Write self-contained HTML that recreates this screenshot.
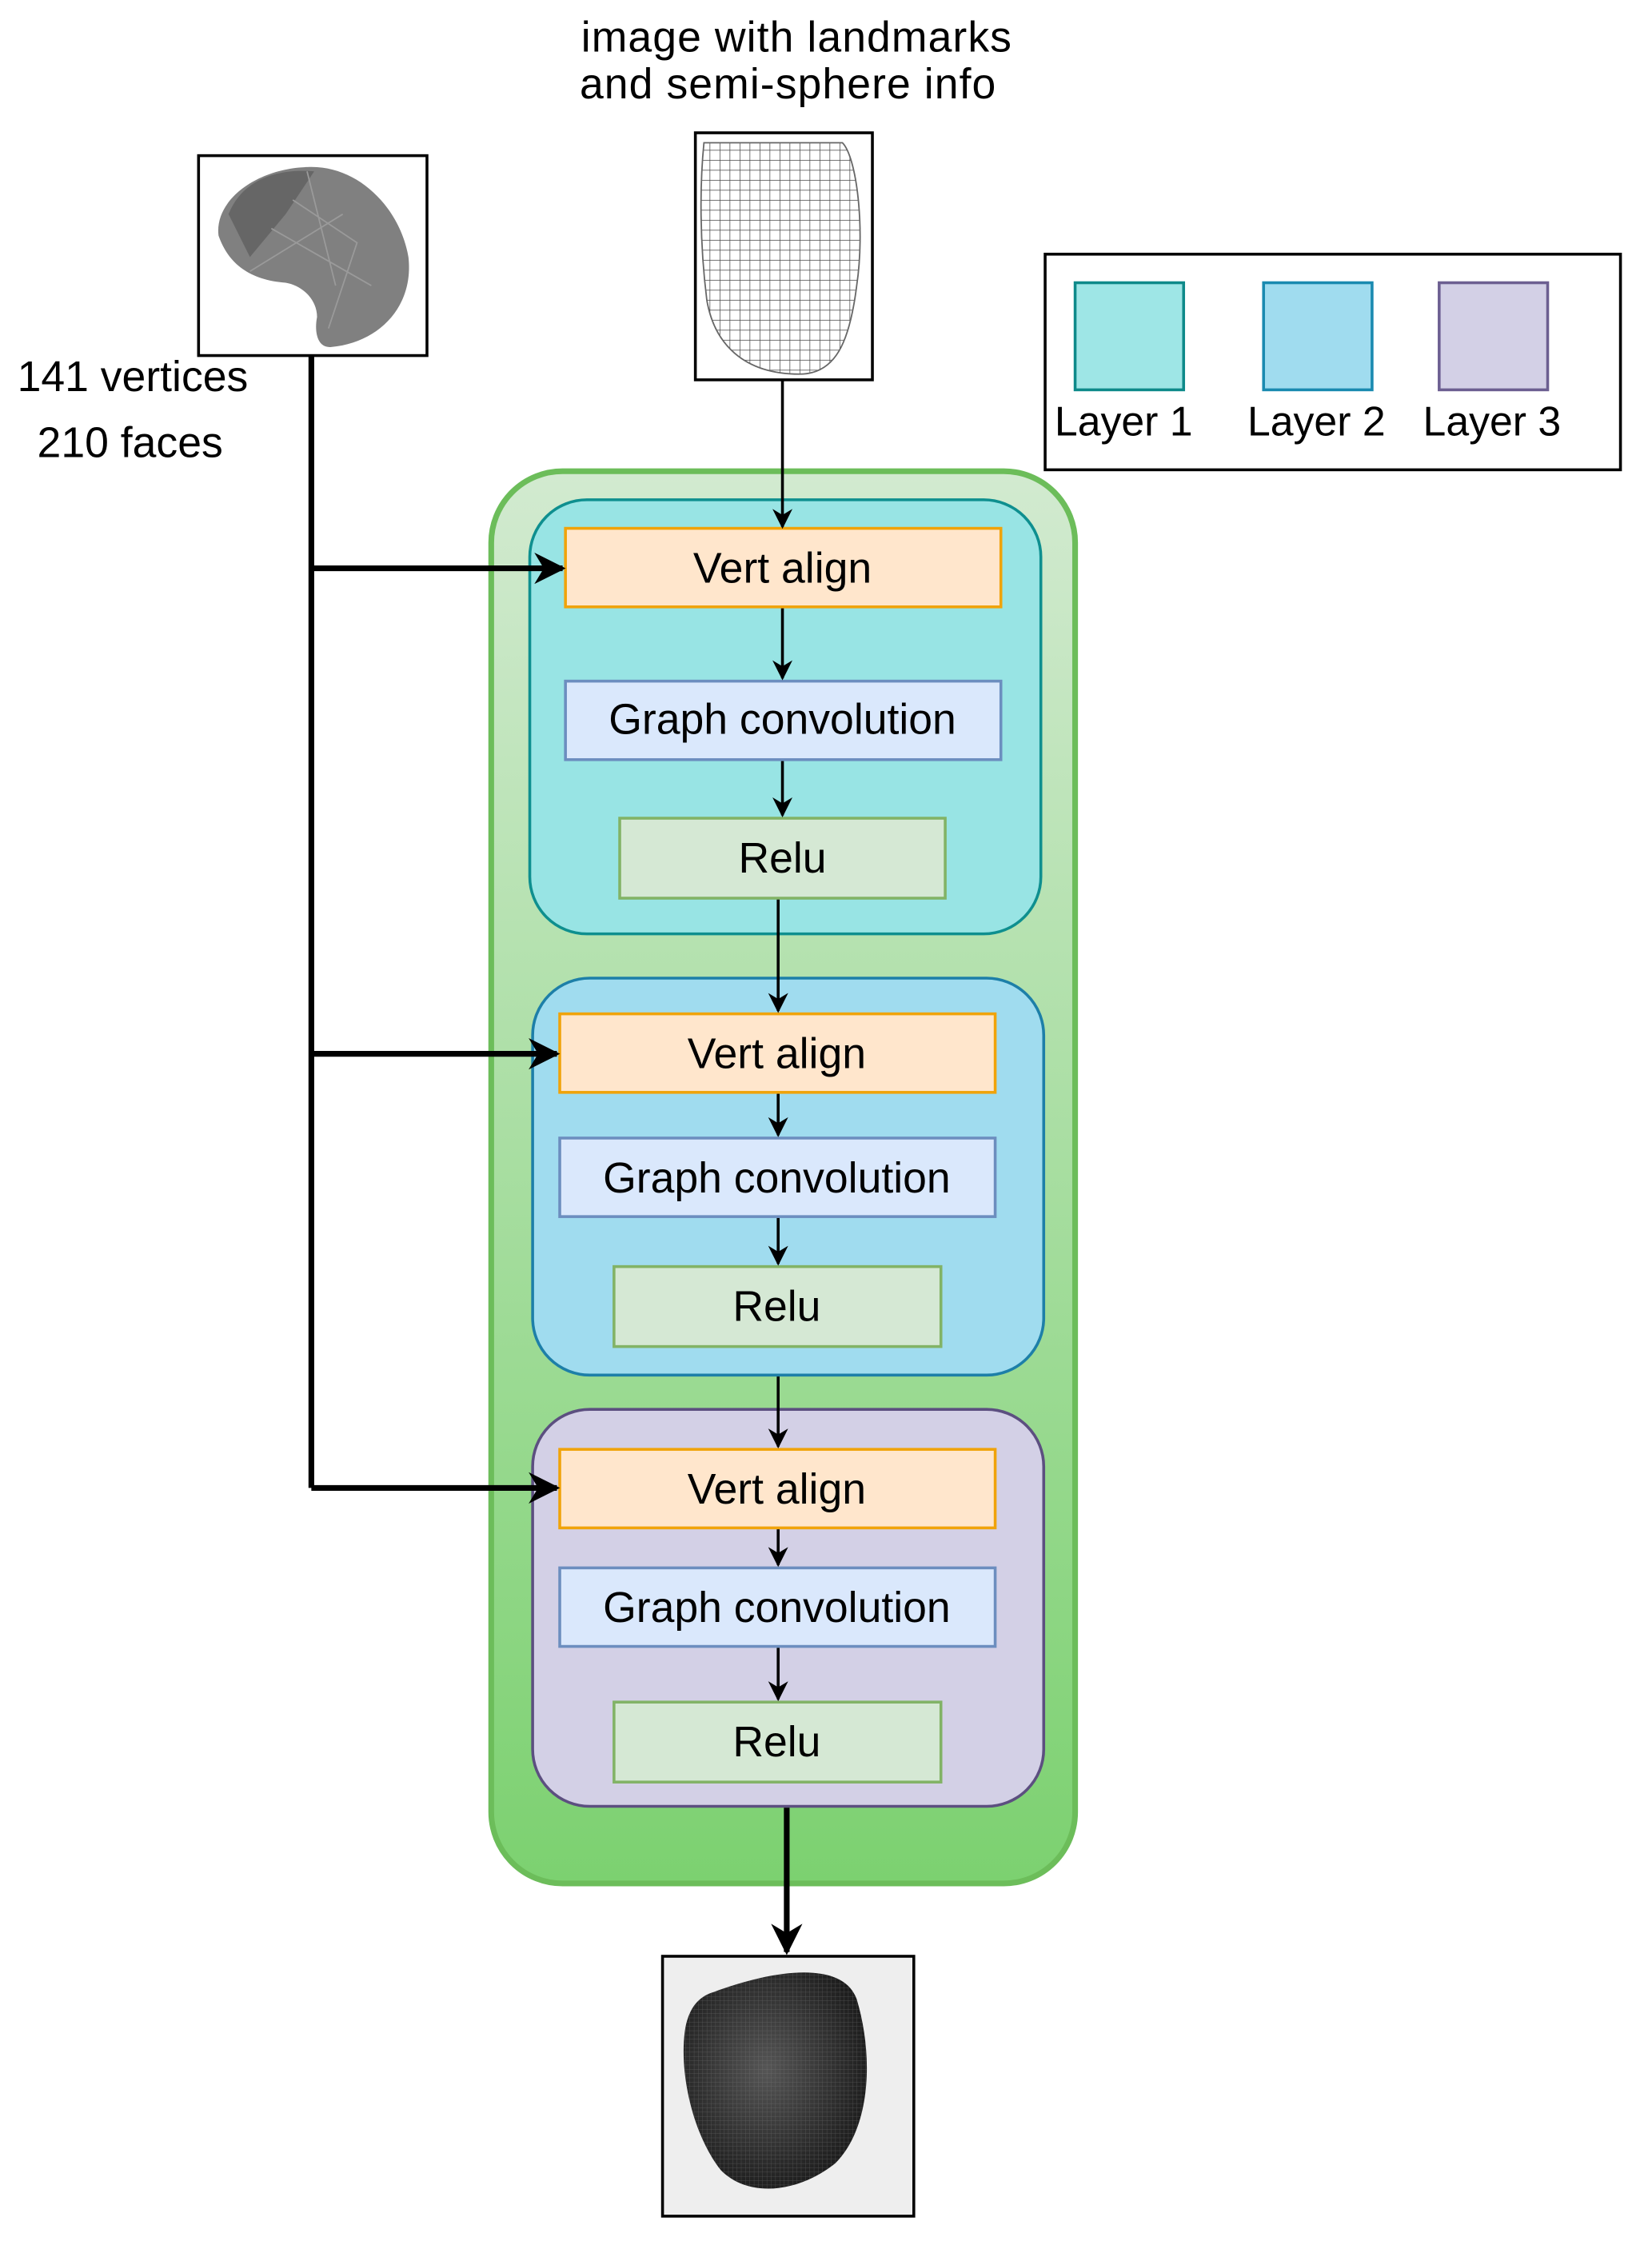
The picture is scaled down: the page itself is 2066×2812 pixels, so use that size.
<!DOCTYPE html>
<html><head><meta charset="utf-8"><style>
html,body{margin:0;padding:0;background:#fff}
svg{display:block}
text{font-family:"Liberation Sans",Arial,sans-serif;fill:#000}
</style></head><body>
<svg width="2066" height="2812" viewBox="0 0 1157 1575" xmlns="http://www.w3.org/2000/svg">
<defs>
<linearGradient id="g" x1="0" y1="0" x2="0" y2="1">
<stop offset="0" stop-color="#d2ead0"/><stop offset="1" stop-color="#7cd170"/>
</linearGradient>
<radialGradient id="fg" cx="0.45" cy="0.45" r="0.6">
<stop offset="0" stop-color="#555"/><stop offset="1" stop-color="#1a1a1a"/>
</radialGradient>
<pattern id="grid" width="7" height="7" patternUnits="userSpaceOnUse">
<path d="M0 0H7M0 0V7" stroke="#444" stroke-width="0.8" fill="none"/>
</pattern>
<pattern id="fine" width="3" height="3" patternUnits="userSpaceOnUse">
<path d="M0 0H3M0 0V3" stroke="#888" stroke-width="0.4" fill="none"/>
</pattern>
<marker id="b" viewBox="0 0 10 10" refX="9" refY="5" markerWidth="14" markerHeight="14" orient="auto" markerUnits="userSpaceOnUse">
<path d="M0 0L10 5L0 10L3 5Z" fill="#000"/></marker>
<marker id="c" viewBox="0 0 10 10" refX="9" refY="5" markerWidth="22" markerHeight="22" orient="auto" markerUnits="userSpaceOnUse">
<path d="M0 0L10 5L0 10L3 5Z" fill="#000"/></marker>
</defs>

<text x="558" y="36" font-size="30" letter-spacing="0.6" text-anchor="middle">image with landmarks</text>
<text x="552" y="69" font-size="30" letter-spacing="0.6" text-anchor="middle">and semi-sphere info</text>

<!-- left image -->
<rect x="139" y="109" width="160" height="140" fill="#fff" stroke="#000" stroke-width="2"/>
<path d="M215 117 C250 115 280 145 286 180 C290 215 265 240 232 243 C222 244 220 232 222 222 C222 210 212 200 200 198 C175 196 160 185 153 165 C150 140 180 118 215 117Z" fill="#808080"/>
<path d="M160 150 C170 125 195 118 220 120 L200 150 L175 180 Z" fill="#666"/>
<path d="M205 140 L250 170 L230 230 M190 160 L260 200 M175 190 L240 150 M215 120 L235 200" stroke="#9a9a9a" fill="none" stroke-width="1"/>
<text x="12" y="274" font-size="30">141 vertices</text>
<text x="26" y="320" font-size="30">210 faces</text>

<!-- face mesh -->
<rect x="487" y="93" width="124" height="173" fill="#fff" stroke="#000" stroke-width="2"/>
<path d="M493 100 L590 100 C600 110 606 160 600 200 C595 240 585 262 560 262 C520 262 500 240 495 210 C490 170 490 130 493 100Z" fill="url(#grid)" stroke="#666"/>

<!-- legend -->
<rect x="732" y="178" width="403" height="151" fill="#fff" stroke="#000" stroke-width="2"/>
<rect x="753" y="198" width="76" height="75" fill="#9ee6e6" stroke="#0e8a8a" stroke-width="2"/>
<rect x="885" y="198" width="76" height="75" fill="#a0dcef" stroke="#1a8ab0" stroke-width="2"/>
<rect x="1008" y="198" width="76" height="75" fill="#d3d0e6" stroke="#6c5f91" stroke-width="2"/>
<text x="787" y="305" font-size="29" text-anchor="middle">Layer 1</text>
<text x="922" y="305" font-size="29" text-anchor="middle">Layer 2</text>
<text x="1045" y="305" font-size="29" text-anchor="middle">Layer 3</text>

<!-- outer -->
<rect x="344" y="330" width="409" height="989" rx="50" fill="url(#g)" stroke="#6cbd5a" stroke-width="4"/>

<!-- layer 1 -->
<rect x="371" y="350" width="358" height="304" rx="40" fill="#98e4e4" stroke="#0e8f8f" stroke-width="2"/>
<rect x="396" y="370" width="305" height="55" fill="#ffe6cc" stroke="#f0a30a" stroke-width="2"/>
<text x="548" y="408" font-size="30" text-anchor="middle">Vert align</text>
<rect x="396" y="477" width="305" height="55" fill="#dae8fc" stroke="#6c8ebf" stroke-width="2"/>
<text x="548" y="514" font-size="30" text-anchor="middle">Graph convolution</text>
<rect x="434" y="573" width="228" height="56" fill="#d5e8d4" stroke="#82b366" stroke-width="2"/>
<text x="548" y="611" font-size="30" text-anchor="middle">Relu</text>

<!-- layer 2 -->
<rect x="373" y="685" width="358" height="278" rx="40" fill="#a0dcef" stroke="#1d7fa8" stroke-width="2"/>
<rect x="392" y="710" width="305" height="55" fill="#ffe6cc" stroke="#f0a30a" stroke-width="2"/>
<text x="544" y="748" font-size="30" text-anchor="middle">Vert align</text>
<rect x="392" y="797" width="305" height="55" fill="#dae8fc" stroke="#6c8ebf" stroke-width="2"/>
<text x="544" y="835" font-size="30" text-anchor="middle">Graph convolution</text>
<rect x="430" y="887" width="229" height="56" fill="#d5e8d4" stroke="#82b366" stroke-width="2"/>
<text x="544" y="925" font-size="30" text-anchor="middle">Relu</text>

<!-- layer 3 -->
<rect x="373" y="987" width="358" height="278" rx="40" fill="#d3d0e6" stroke="#5c4f80" stroke-width="2"/>
<rect x="392" y="1015" width="305" height="55" fill="#ffe6cc" stroke="#f0a30a" stroke-width="2"/>
<text x="544" y="1053" font-size="30" text-anchor="middle">Vert align</text>
<rect x="392" y="1098" width="305" height="55" fill="#dae8fc" stroke="#6c8ebf" stroke-width="2"/>
<text x="544" y="1136" font-size="30" text-anchor="middle">Graph convolution</text>
<rect x="430" y="1192" width="229" height="56" fill="#d5e8d4" stroke="#82b366" stroke-width="2"/>
<text x="544" y="1230" font-size="30" text-anchor="middle">Relu</text>

<!-- arrows -->
<g stroke="#000" stroke-width="2" fill="none" marker-end="url(#b)">
<path d="M548 266V369"/>
<path d="M548 426V475"/>
<path d="M548 533V571"/>
<path d="M545 630V708"/>
<path d="M545 766V795"/>
<path d="M545 853V885"/>
<path d="M545 964V1013"/>
<path d="M545 1071V1096"/>
<path d="M545 1154V1190"/>
</g>
<g stroke="#000" stroke-width="4" fill="none">
<path d="M218 249V1042"/>
<path d="M218 398H394" marker-end="url(#c)"/>
<path d="M218 738H390" marker-end="url(#c)"/>
<path d="M218 1042H390" marker-end="url(#c)"/>
<path d="M551 1266V1367" marker-end="url(#c)"/>
</g>

<!-- output -->
<rect x="464" y="1370" width="176" height="182" fill="#eee" stroke="#000" stroke-width="2"/>
<path d="M500 1395 C540 1380 590 1372 600 1400 C612 1440 610 1490 585 1515 C560 1535 525 1540 505 1520 C485 1495 475 1450 480 1420 C483 1405 490 1398 500 1395Z" fill="url(#fg)"/>
<path d="M500 1395 C540 1380 590 1372 600 1400 C612 1440 610 1490 585 1515 C560 1535 525 1540 505 1520 C485 1495 475 1450 480 1420 C483 1405 490 1398 500 1395Z" fill="url(#fine)" opacity="0.5"/>
</svg>
</body></html>
